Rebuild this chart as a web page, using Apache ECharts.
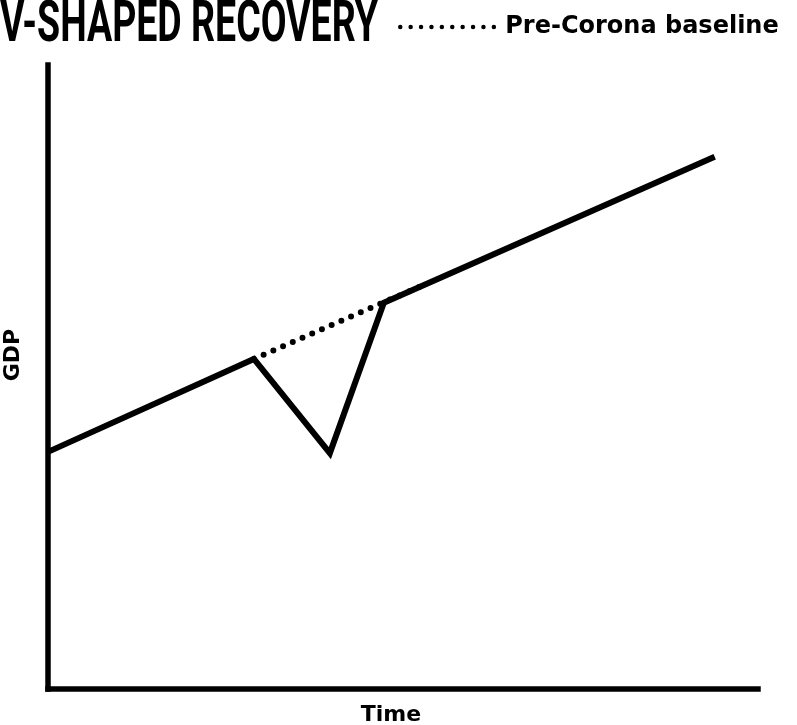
<!DOCTYPE html>
<html>
<head>
<meta charset="utf-8">
<title>V-shaped recovery</title>
<script src="https://cdn.jsdelivr.net/npm/echarts@6/dist/echarts.min.js"></script>
<style>
  html, body { margin: 0; padding: 0; background: #fff; }
  #chart { width: 797px; height: 725px; }
</style>
</head>
<body>
<div id="chart"></div>
<script>
// values, arbitrary units (0..100 on both axes)
const gdpPath = [
  [0, 38.0],
  [29.0, 52.9],
  [39.7, 37.8],
  [47.3, 61.9],
  [93.9, 85.3]
];
const baselinePath = [
  [29.0, 52.9],
  [53.0, 64.8]
];
const titleText = 'V-SHAPED RECOVERY';
const baselineName = 'Pre-Corona baseline';

// squeeze a normal bold face into the narrow headline width
const titleFont = 'bold 58px Roboto';
const measure = document.createElement('canvas').getContext('2d');
measure.font = titleFont;
const titleScale = 378 / measure.measureText(titleText).width;

const chart = echarts.init(document.getElementById('chart'));

const axisBase = {
  type: 'value',
  min: 0,
  max: 100,
  nameLocation: 'middle',
  axisLine: { show: true, lineStyle: { color: '#000', width: 5.5, cap: 'square' } },
  axisTick: { show: false },
  axisLabel: { show: false },
  splitLine: { show: false }
};

const nameFont = { color: '#000', fontFamily: 'DejaVu Sans', fontWeight: 'bold', fontSize: 22 };

chart.setOption({
  animation: false,
  backgroundColor: '#fff',
  grid: { left: 48, right: 39, top: 65, bottom: 36, outerBoundsMode: 'none', containLabel: false },
  graphic: [{
    type: 'text',
    x: 0,
    y: 26,
    scaleX: titleScale,
    style: {
      text: titleText,
      fill: '#000',
      font: titleFont,
      verticalAlign: 'middle'
    }
  }],
  legend: {
    left: 393,
    top: 10,
    data: [baselineName],
    itemWidth: 100,
    itemHeight: 14,
    selectedMode: false,
    itemStyle: { color: 'rgba(0,0,0,0)', borderWidth: 0 },
    lineStyle: { width: 4.5, type: [0, 10.4], cap: 'round', color: '#000' },
    textStyle: Object.assign({}, nameFont, { fontSize: 24, lineHeight: 22 })
  },
  xAxis: Object.assign({}, axisBase, {
    name: 'Time',
    nameGap: 15,
    nameTextStyle: Object.assign({}, nameFont, { padding: [0, 24, 0, 0] })
  }),
  yAxis: Object.assign({}, axisBase, {
    name: 'GDP',
    nameGap: 24,
    nameTextStyle: Object.assign({}, nameFont, { padding: [0, 0, 0, 44] })
  }),
  series: [
    {
      name: 'GDP',
      type: 'line',
      data: gdpPath,
      symbol: 'none',
      z: 3,
      itemStyle: { color: '#000' },
      lineStyle: { color: '#000', width: 6, join: 'miter' }
    },
    {
      name: baselineName,
      type: 'line',
      data: baselinePath,
      symbol: 'none',
      z: 2,
      itemStyle: { color: '#000' },
      lineStyle: { color: '#000', width: 6, type: [0, 10.6], cap: 'round' }
    }
  ]
});
</script>
</body>
</html>
